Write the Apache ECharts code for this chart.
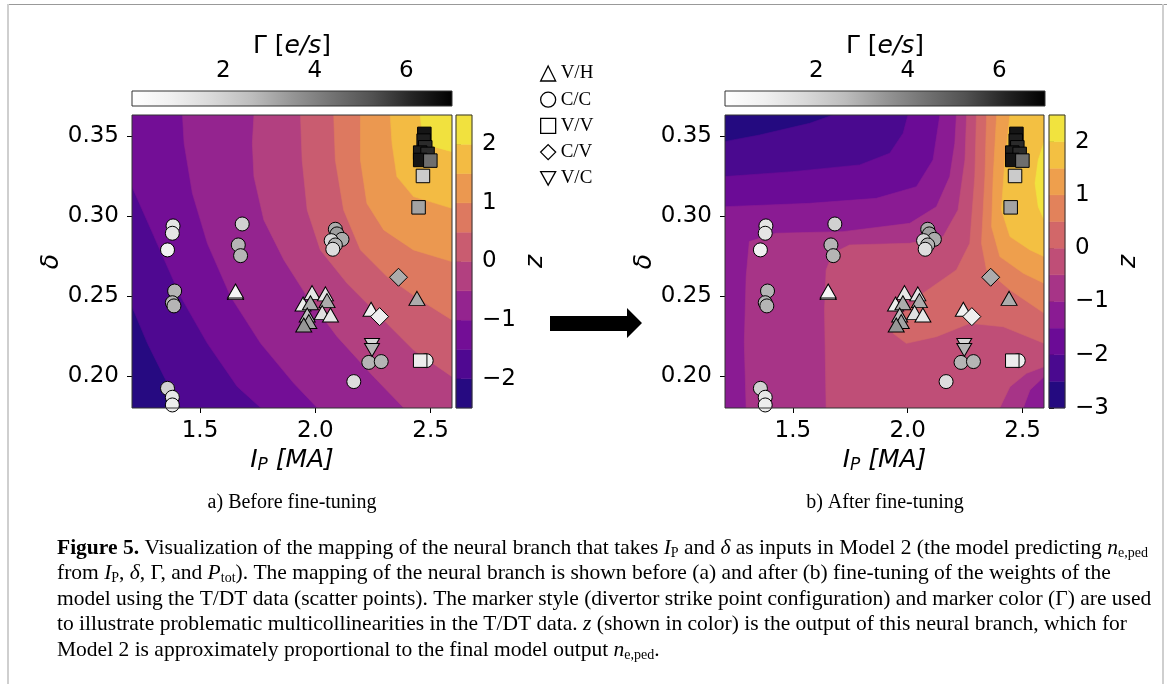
<!DOCTYPE html>
<html><head><meta charset="utf-8">
<script src="https://cdn.jsdelivr.net/npm/echarts@6/dist/echarts.min.js"></script>
<style>html,body{margin:0;padding:0;background:#fff}#c{width:1167px;height:684px}</style>
</head><body><div id="c"></div>
<script>
// ---------------- data ----------------
const xTicks = [1.5, 2.0, 2.5];
const yTicks = [0.20, 0.25, 0.30, 0.35];
const xRange = [1.205, 2.593];
const yRange = [0.18, 0.3631];
const gammaRange = [0, 7];
const gammaTicks = [2, 4, 6];
const levelsA = [-2.5, -2, -1.5, -1, -0.5, 0, 0.5, 1, 1.5, 2, 2.5];
const levelsB = [-3, -2.5, -2, -1.5, -1, -0.5, 0, 0.5, 1, 1.5, 2, 2.5];
const zTicksA = [-2, -1, 0, 1, 2];
const zTicksB = [-3, -2, -1, 0, 1, 2];
// contour regions: [band index k, polygon of region z >= levels[k]] (Ip, delta)
const regionsA = [
  [0, [[1.1,0.17],[2.7,0.17],[2.7,0.38],[1.1,0.38]]],
  [1, [[1.1,0.26],[1.205,0.2433],[1.272,0.2204],[1.344,0.1996],[1.416,0.1802],[1.43,0.17],[2.7,0.17],[2.7,0.38],[1.1,0.38]]],
  [2, [[1.1,0.335],[1.205,0.3183],[1.301,0.2871],[1.416,0.2496],[1.532,0.2204],[1.662,0.1933],[1.763,0.1802],[1.78,0.17],[2.7,0.17],[2.7,0.38],[1.1,0.38]]],
  [3, [[1.42,0.38],[1.424,0.3631],[1.431,0.3454],[1.467,0.3142],[1.532,0.2829],[1.633,0.2496],[1.763,0.2204],[1.907,0.1954],[2.008,0.1802],[2.02,0.17],[2.7,0.17],[2.7,0.38]]],
  [4, [[1.734,0.38],[1.734,0.3631],[1.727,0.3454],[1.734,0.3246],[1.777,0.2975],[1.864,0.2725],[1.965,0.2496],[2.095,0.2246],[2.253,0.1996],[2.383,0.1802],[2.4,0.17],[2.7,0.17],[2.7,0.38]]],
  [5, [[1.936,0.38],[1.936,0.3631],[1.943,0.335],[1.965,0.3038],[2.022,0.2788],[2.138,0.2579],[2.282,0.2371],[2.426,0.2163],[2.593,0.1996],[2.7,0.19],[2.7,0.38]]],
  [6, [[2.08,0.38],[2.08,0.3631],[2.087,0.335],[2.123,0.3038],[2.196,0.2788],[2.311,0.2621],[2.455,0.2475],[2.593,0.235],[2.7,0.23],[2.7,0.38]]],
  [7, [[2.196,0.38],[2.196,0.3631],[2.196,0.335],[2.224,0.3079],[2.297,0.2913],[2.426,0.2788],[2.593,0.2715],[2.7,0.27],[2.7,0.38]]],
  [8, [[2.325,0.38],[2.325,0.3631],[2.333,0.3454],[2.354,0.3246],[2.426,0.3121],[2.593,0.3048],[2.7,0.303],[2.7,0.38]]],
  [9, [[2.455,0.38],[2.455,0.3631],[2.462,0.3538],[2.513,0.3433],[2.593,0.3402],[2.7,0.339],[2.7,0.38]]]
];
const regionsB = [
  [0, [[1.1,0.17],[2.7,0.17],[2.7,0.38],[1.1,0.38]]],
  [1, [[1.1,0.344],[1.202,0.3465],[1.355,0.3506],[1.573,0.3579],[1.674,0.3631],[1.68,0.38],[2.7,0.38],[2.7,0.17],[1.1,0.17]]],
  [2, [[1.1,0.323],[1.202,0.3246],[1.5,0.3277],[1.791,0.3319],[1.922,0.3392],[1.98,0.3517],[2.001,0.3631],[2.005,0.38],[2.7,0.38],[2.7,0.17],[1.1,0.17]]],
  [3, [[1.1,0.305],[1.202,0.3058],[1.573,0.3079],[1.863,0.311],[2.038,0.3183],[2.11,0.335],[2.14,0.3631],[2.142,0.38],[2.7,0.38],[2.7,0.17],[1.1,0.17]]],
  [4, [[2.215,0.38],[2.212,0.3631],[2.205,0.3454],[2.183,0.3246],[2.125,0.3058],[2.009,0.2954],[1.718,0.2902],[1.427,0.2892],[1.311,0.284],[1.297,0.2621],[1.289,0.2204],[1.297,0.1802],[1.297,0.17],[2.5,0.17],[2.503,0.1802],[2.532,0.1913],[2.594,0.1996],[2.7,0.2],[2.7,0.38]]],
  [5, [[2.256,0.38],[2.256,0.3631],[2.249,0.335],[2.219,0.3038],[2.154,0.2871],[2.009,0.2829],[1.747,0.2819],[1.674,0.2767],[1.645,0.2663],[1.638,0.2413],[1.645,0.1802],[1.645,0.17],[2.4,0.17],[2.401,0.1802],[2.445,0.1933],[2.517,0.2017],[2.594,0.2058],[2.7,0.207],[2.7,0.38]]],
  [6, [[2.299,0.38],[2.299,0.3631],[2.292,0.3246],[2.27,0.2829],[2.212,0.2663],[2.067,0.2517],[1.965,0.2371],[1.936,0.2267],[1.994,0.2204],[2.125,0.2246],[2.27,0.2329],[2.416,0.2308],[2.594,0.2204],[2.7,0.218],[2.7,0.38]]],
  [7, [[2.343,0.38],[2.343,0.3631],[2.336,0.3246],[2.321,0.2829],[2.343,0.2663],[2.445,0.2538],[2.594,0.2392],[2.7,0.237],[2.7,0.38]]],
  [8, [[2.387,0.38],[2.387,0.3631],[2.372,0.3246],[2.365,0.2933],[2.401,0.2746],[2.503,0.2642],[2.594,0.2579],[2.7,0.256],[2.7,0.38]]],
  [9, [[2.445,0.38],[2.445,0.3631],[2.423,0.335],[2.408,0.3038],[2.445,0.2871],[2.532,0.2788],[2.594,0.2746],[2.7,0.274],[2.7,0.38]]],
  [10, [[2.7,0.35],[2.594,0.3465],[2.568,0.335],[2.554,0.3204],[2.568,0.3058],[2.594,0.2975],[2.7,0.297]]]
];
// scatter points: [Ip, delta, Gamma]
const ptsVH = [[1.654,0.2521,2.0],[1.654,0.2531,0.5],[1.947,0.2450,1.0],[1.986,0.2521,1.2],[1.979,0.2458,3.0],[2.044,0.2513,1.3],[2.051,0.2471,3.0],[2.030,0.2396,1.5],[2.066,0.2381,1.2],[1.965,0.2381,2.5],[1.972,0.2340,3.2],[1.950,0.2319,3.5],[2.242,0.2417,0.8],[2.441,0.2485,3.0]];
const ptsCC = [[1.383,0.2938,1.3],[1.380,0.2892,1.3],[1.359,0.2788,0.8],[1.390,0.2531,2.8],[1.380,0.2458,2.8],[1.387,0.2438,2.8],[1.359,0.1923,2.0],[1.380,0.1867,1.2],[1.380,0.1819,1.0],[1.683,0.2950,2.0],[1.666,0.2819,2.8],[1.676,0.2752,2.8],[2.087,0.2917,3.0],[2.094,0.2888,3.3],[2.116,0.2854,3.0],[2.069,0.2846,1.8],[2.087,0.2819,2.8],[2.076,0.2792,1.6],[2.232,0.2085,2.8],[2.286,0.2090,2.8],[2.167,0.1965,1.6],[2.481,0.2096,1.0]];
const ptsVV = [[2.473,0.3513,6.5],[2.470,0.3471,6.3],[2.477,0.3429,6.0],[2.455,0.3396,6.3],[2.487,0.3388,6.0],[2.455,0.3350,6.5],[2.499,0.3346,4.5],[2.467,0.3250,2.2],[2.448,0.3054,3.2],[2.455,0.2096,1.0]];
const ptsCV = [[2.361,0.2617,3.0],[2.279,0.2371,0.9]];
const ptsVC = [[2.246,0.2194,1.8],[2.246,0.2163,2.8]];
const shapeNames = ['V/H', 'C/C', 'V/V', 'C/V', 'V/C'];

// ---------------- colour maps ----------------
const PLASMA = ['#0d0887','#41049d','#6a00a8','#8f0da4','#b12a90','#cc4778','#e16462','#f2844b','#fca636','#fcce25','#f0f921'];
const GREYS = ['#ffffff','#f0f0f0','#d9d9d9','#bdbdbd','#969696','#737373','#525252','#252525','#000000'];
const DESAT = 0.15;
function hexToRgb(h){return [parseInt(h.slice(1,3),16),parseInt(h.slice(3,5),16),parseInt(h.slice(5,7),16)];}
function cmapRgb(stops, t){
  t = Math.max(0, Math.min(1, t));
  const n = stops.length - 1, f = t * n, i = Math.min(Math.floor(f), n - 1), u = f - i;
  const a = hexToRgb(stops[i]), b = hexToRgb(stops[i + 1]);
  return a.map((v, k) => v + (b[k] - v) * u);
}
function rgbStr(c){ return 'rgb(' + c.map(v => Math.round(v)).join(',') + ')'; }
function bandColor(i, n){
  const c = cmapRgb(PLASMA, (i + 0.5) / n);
  const l = 0.3 * c[0] + 0.59 * c[1] + 0.11 * c[2];
  return rgbStr(c.map(v => v + (l - v) * DESAT));
}
function gammaColor(g){ return rgbStr(cmapRgb(GREYS, (g - gammaRange[0]) / (gammaRange[1] - gammaRange[0]))); }

const SANS = 'DejaVu Sans', SERIF = 'Liberation Serif';
const TICK = 23, LAB = 25;

// ---------------- builders ----------------
function mainX(gi){
  return { gridIndex: gi, type: 'value', min: xRange[0], max: xRange[1], position: 'bottom',
    axisLine: {show: false}, splitLine: {show: false},
    axisTick: {show: true, customValues: xTicks, length: 5, lineStyle: {color: '#000', width: 1}},
    axisLabel: {customValues: xTicks, formatter: v => v.toFixed(1), fontSize: TICK, fontFamily: SANS, color: '#000', margin: 12},
    name: '{i|I}{s|P}{i| [MA]}', nameLocation: 'middle', nameGap: 38,
    nameTextStyle: {fontSize: LAB, fontFamily: SANS, color: '#000',
      rich: {i: {fontSize: LAB, fontFamily: SANS, fontStyle: 'italic', color: '#000'},
             s: {fontSize: 17, fontFamily: SANS, fontStyle: 'italic', color: '#000', padding: [11, 0, 0, 0]}}}
  };
}
function mainY(gi){
  return { gridIndex: gi, type: 'value', min: yRange[0], max: yRange[1], position: 'left',
    axisLine: {show: false}, splitLine: {show: false},
    axisTick: {show: true, customValues: yTicks, length: 5, lineStyle: {color: '#000', width: 1}},
    axisLabel: {customValues: yTicks, formatter: v => v.toFixed(2), fontSize: TICK, fontFamily: SANS, color: '#000', margin: 13},
    name: 'δ', nameLocation: 'middle', nameGap: 68, nameRotate: 90,
    nameTextStyle: {fontSize: LAB, fontFamily: SANS, fontStyle: 'italic', color: '#000'}
  };
}
function contourSeries(ai, regions, nBands){
  return { type: 'custom', xAxisIndex: ai, yAxisIndex: ai, silent: true, clip: true, z: 1,
    data: regions.map(() => [1.9, 0.27]),
    renderItem: function(params, api){
      const r = regions[params.dataIndex];
      const c = bandColor(r[0], nBands);
      return {type: 'polygon', shape: {points: r[1].map(p => api.coord(p))}, style: {fill: c, stroke: c, lineWidth: 0.6}};
    }
  };
}
function scatterSeries(ai, name, pts, symbol, size, rot){
  return { type: 'scatter', name: name, xAxisIndex: ai, yAxisIndex: ai, data: pts, symbol: symbol,
    symbolSize: size, symbolRotate: rot || 0, z: 5, silent: true, clip: true,
    itemStyle: {color: p => gammaColor(p.data[2]), borderColor: '#000', borderWidth: 1, opacity: 1}
  };
}
function zBarSeries(ai, levels){
  const n = levels.length - 1;
  return { type: 'custom', xAxisIndex: ai, yAxisIndex: ai, silent: true, z: 1,
    data: levels.slice(0, -1).map((v, i) => [0.5, (v + levels[i + 1]) / 2]),
    renderItem: function(params, api){
      const i = params.dataIndex;
      const a = api.coord([0, levels[i]]), b = api.coord([1, levels[i + 1]]);
      const c = bandColor(i, n);
      return {type: 'rect', shape: {x: a[0], y: b[1], width: b[0] - a[0], height: a[1] - b[1]}, style: {fill: c, stroke: c, lineWidth: 0.5}};
    }
  };
}
function gammaBarSeries(ai){
  return { type: 'custom', xAxisIndex: ai, yAxisIndex: ai, silent: true, z: 1,
    data: [[3.5, 0.5]],
    renderItem: function(params, api){
      const a = api.coord([gammaRange[0], 0]), b = api.coord([gammaRange[1], 1]);
      return {type: 'rect', shape: {x: a[0], y: b[1], width: b[0] - a[0], height: a[1] - b[1]},
        style: {fill: new echarts.graphic.LinearGradient(0, 0, 1, 0, GREYS.map((c, i) => ({offset: i / (GREYS.length - 1), color: c})))}};
    }
  };
}
function zX(gi){ return {gridIndex: gi, type: 'value', min: 0, max: 1, show: false}; }
function zY(gi, levels, ticks, gap){
  return { gridIndex: gi, type: 'value', min: levels[0], max: levels[levels.length - 1], position: 'right',
    axisLine: {show: false}, splitLine: {show: false},
    axisTick: {show: true, customValues: ticks, length: 5, lineStyle: {color: '#000'}},
    axisLabel: {customValues: ticks, formatter: v => (v < 0 ? '\u2212' + Math.abs(v) : String(v)), fontSize: TICK, fontFamily: SANS, color: '#000', margin: 10},
    name: 'z', nameLocation: 'middle', nameRotate: 90, nameGap: gap,
    nameTextStyle: {fontSize: LAB, fontFamily: SANS, fontStyle: 'italic', color: '#000'}
  };
}
function gX(gi){
  return { gridIndex: gi, type: 'value', min: gammaRange[0], max: gammaRange[1], position: 'top',
    axisLine: {show: false}, splitLine: {show: false},
    axisTick: {show: true, customValues: gammaTicks, length: 4, lineStyle: {color: '#000'}},
    axisLabel: {customValues: gammaTicks, fontSize: TICK, fontFamily: SANS, color: '#000', margin: 8},
    name: '{u|Γ [}{i|e/s}{u|]}', nameLocation: 'middle', nameGap: 31,
    nameTextStyle: {fontSize: LAB, fontFamily: SANS, color: '#000',
      rich: {u: {fontSize: LAB, fontFamily: SANS, color: '#000'}, i: {fontSize: LAB, fontFamily: SANS, fontStyle: 'italic', color: '#000'}}}
  };
}
function gY(gi){ return {gridIndex: gi, type: 'value', min: 0, max: 1, show: false}; }

const gridStyle = {show: true, borderColor: '#333', borderWidth: 1, backgroundColor: 'rgba(0,0,0,0)', z: 10, containLabel: false};

const CAP = 21.5;
const captionRich = {
  b: {fontWeight: 'bold', fontFamily: SERIF, fontSize: CAP, fill: '#000'},
  i: {fontStyle: 'italic', fontFamily: SERIF, fontSize: CAP, fill: '#000'},
  s: {fontFamily: SERIF, fontSize: 14, fill: '#000', padding: [10, 0, 0, 0]}
};
const captionLines = [
  '{b|Figure 5.} Visualization of the mapping of the neural branch that takes {i|I}{s|P} and {i|δ} as inputs in Model 2 (the model predicting {i|n}{s|e,ped}',
  'from {i|I}{s|P}, {i|δ}, Γ, and {i|P}{s|tot}). The mapping of the neural branch is shown before (a) and after (b) fine-tuning of the weights of the',
  'model using the T/DT data (scatter points). The marker style (divertor strike point configuration) and marker color (Γ) are used',
  'to illustrate problematic multicollinearities in the T/DT data. {i|z} (shown in color) is the output of this neural branch, which for',
  'Model 2 is approximately proportional to the final model output {i|n}{s|e,ped}.'
];
const captionY = [548, 573.5, 599, 624.5, 650];

const graphics = [
  {type: 'line', shape: {x1: 7, y1: 4.5, x2: 1167, y2: 4.5}, style: {stroke: '#999', lineWidth: 1}, silent: true},
  {type: 'line', shape: {x1: 8, y1: 4, x2: 8, y2: 684}, style: {stroke: '#cfcfcf', lineWidth: 2}, silent: true},
  {type: 'line', shape: {x1: 1163, y1: 4, x2: 1163, y2: 684}, style: {stroke: '#cfcfcf', lineWidth: 2}, silent: true},
  {type: 'polygon', shape: {points: [[550,316],[627,316],[627,308],[642,323],[627,338],[627,331],[550,331]]}, style: {fill: '#000'}, silent: true},
  {type: 'text', style: {text: 'a) Before fine-tuning', x: 292, y: 503, align: 'center', verticalAlign: 'middle', fontFamily: SERIF, fontSize: 20, fill: '#000'}, silent: true},
  {type: 'text', style: {text: 'b) After fine-tuning', x: 885, y: 503, align: 'center', verticalAlign: 'middle', fontFamily: SERIF, fontSize: 20, fill: '#000'}, silent: true}
];
captionLines.forEach((t, i) => graphics.push({type: 'text', silent: true,
  style: {text: t, x: 57, y: captionY[i], verticalAlign: 'middle', fontFamily: SERIF, fontSize: CAP, fill: '#000', rich: captionRich}}));

const legendItem = (name, icon) => ({name: name, icon: icon, itemStyle: {color: '#fff', borderColor: '#000', borderWidth: 1.3}});

const option = {
  animation: false,
  backgroundColor: '#fff',
  grid: [
    Object.assign({left: 132, top: 115, width: 320, height: 293}, gridStyle),
    Object.assign({left: 725, top: 115, width: 319, height: 293}, gridStyle),
    Object.assign({left: 456, top: 115, width: 16, height: 293}, gridStyle),
    Object.assign({left: 1049, top: 115, width: 16, height: 293}, gridStyle),
    Object.assign({left: 132, top: 91, width: 320, height: 15}, gridStyle),
    Object.assign({left: 725, top: 91, width: 320, height: 15}, gridStyle)
  ],
  xAxis: [mainX(0), mainX(1), zX(2), zX(3), gX(4), gX(5)],
  yAxis: [mainY(0), mainY(1), zY(2, levelsA, zTicksA, 51), zY(3, levelsB, zTicksB, 51), gY(4), gY(5)],
  legend: {
    orient: 'vertical', left: 535, top: 59, itemWidth: 15, itemHeight: 15, itemGap: 7.2, selectedMode: false,
    textStyle: {fontFamily: SERIF, fontSize: 19, color: '#000'},
    data: [legendItem('V/H', 'triangle'), legendItem('C/C', 'circle'), legendItem('V/V', 'rect'), legendItem('C/V', 'diamond'), legendItem('V/C', 'path://M0,0L10,0L5,9Z')]
  },
  graphic: graphics,
  series: [
    contourSeries(0, regionsA, levelsA.length - 1),
    contourSeries(1, regionsB, levelsB.length - 1),
    zBarSeries(2, levelsA),
    zBarSeries(3, levelsB),
    gammaBarSeries(4),
    gammaBarSeries(5)
  ]
};
[0, 1].forEach(ai => {
  option.series.push(scatterSeries(ai, shapeNames[0], ptsVH, 'triangle', [16, 14]));
  option.series.push(scatterSeries(ai, shapeNames[1], ptsCC, 'circle', 14));
  option.series.push(scatterSeries(ai, shapeNames[2], ptsVV, 'rect', 13.5));
  option.series.push(scatterSeries(ai, shapeNames[3], ptsCV, 'diamond', 18));
  option.series.push(scatterSeries(ai, shapeNames[4], ptsVC, 'triangle', [15, 13], 180));
});

const chart = echarts.init(document.getElementById('c'), null, {renderer: 'canvas'});
chart.setOption(option);
</script>
</body></html>
